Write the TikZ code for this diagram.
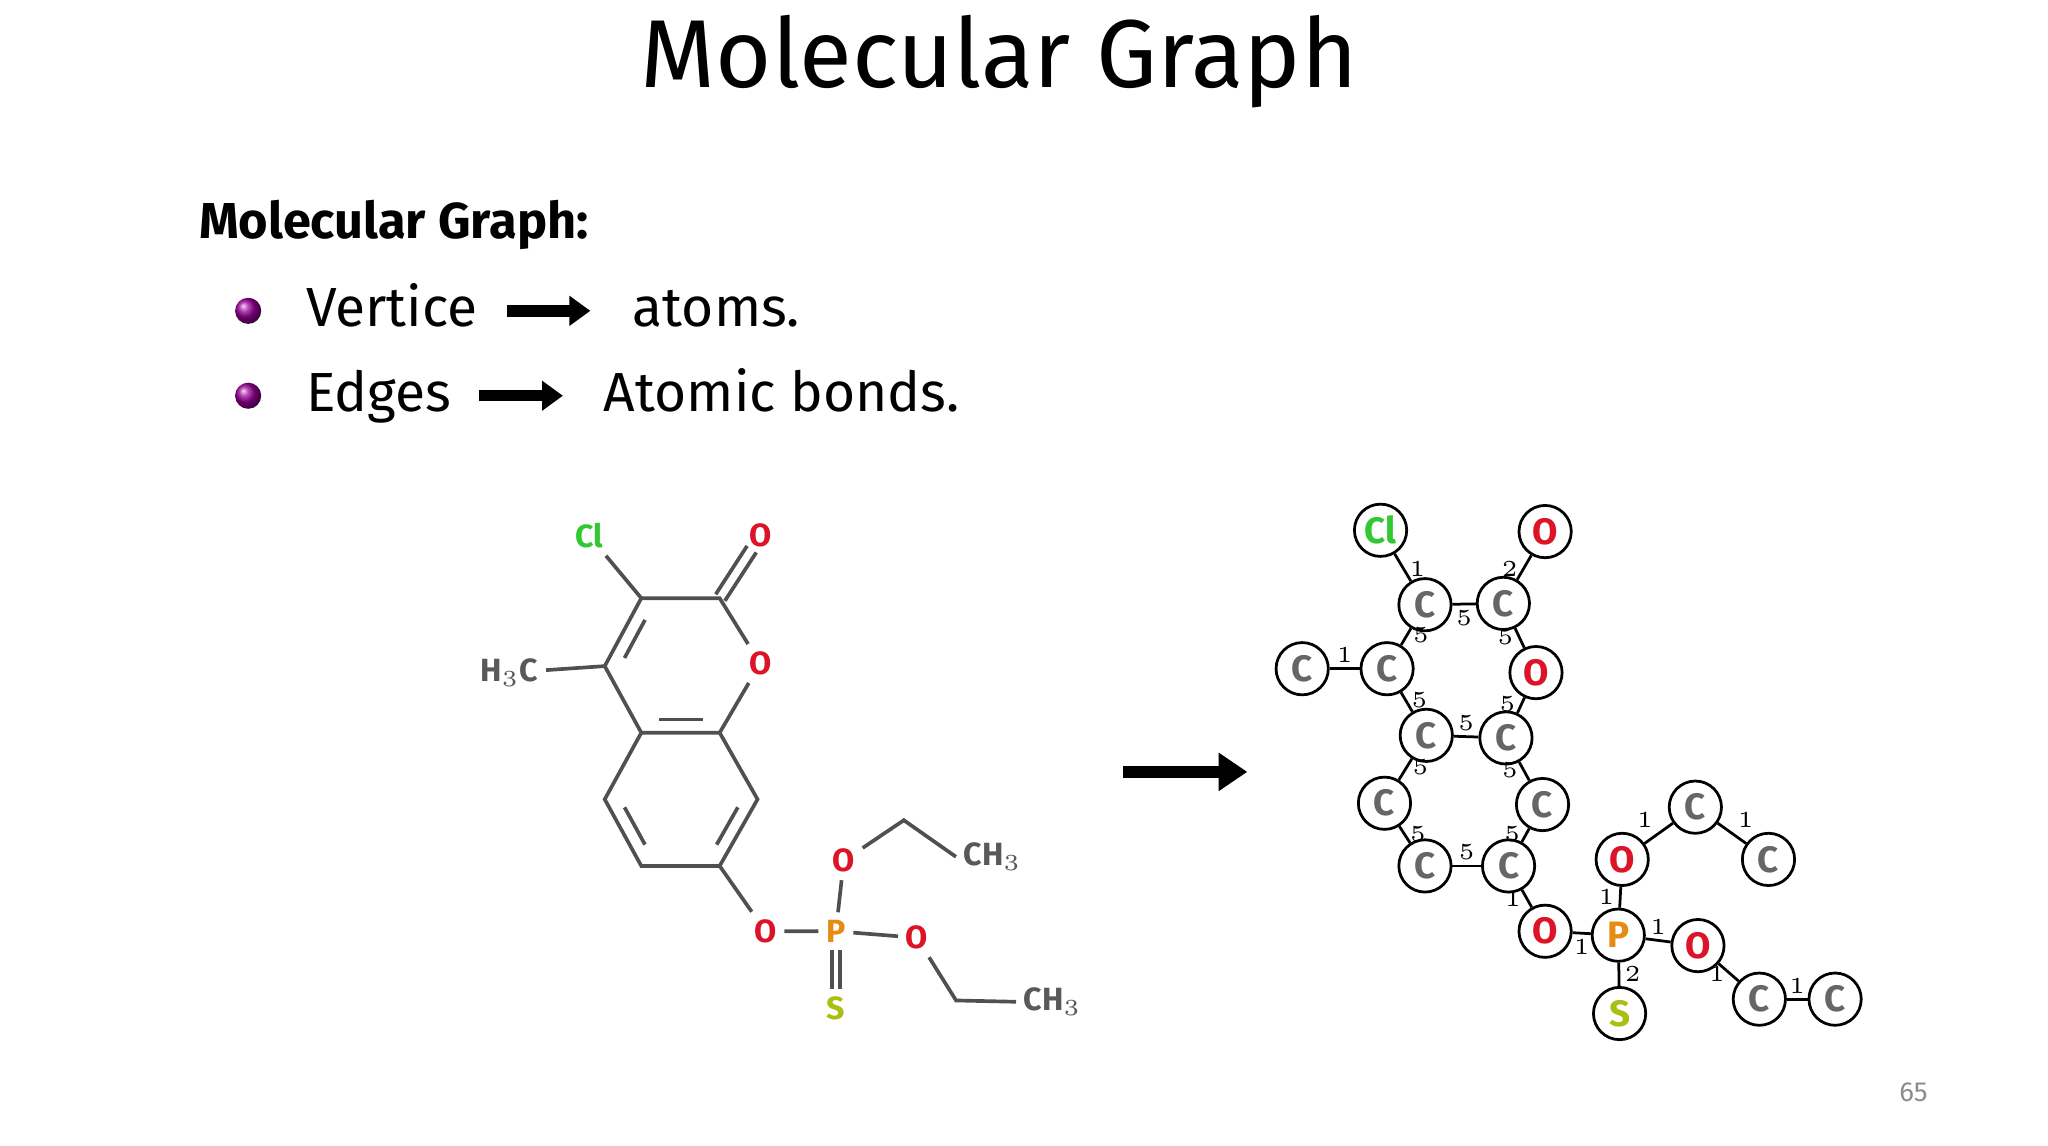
\documentclass[tikz,border=0pt]{standalone}
\usepackage{fontspec}
\setsansfont{Fira Sans}
\usetikzlibrary{calc,arrows.meta,shadings}
\definecolor{clg}{RGB}{50,200,50}
\definecolor{ored}{RGB}{220,20,40}
\definecolor{porg}{RGB}{230,140,20}
\definecolor{syel}{RGB}{170,190,20}
\definecolor{bondg}{RGB}{80,80,80}
\begin{document}
\begin{tikzpicture}[x=0.01cm,y=-0.01cm,
  atm/.style={circle,draw,semithick,minimum size=0.4cm,inner sep=0pt,font=\sffamily\fontsize{8}{8}\selectfont\bfseries,text=black!60},
  lab/.style={font=\fontsize{5}{5}\selectfont,inner sep=1pt},
  gl/.style={semithick},
  ml/.style={inner sep=1.5pt,font=\sffamily\fontsize{7}{7}\selectfont\bfseries},
  bd/.style={bondg,thick},
  bul/.style={circle,inner sep=0pt,minimum size=0.2cm,ball color=violet!80!magenta},
  big/.style={line width=2.5pt,-{Triangle[length=0.22cm,width=0.28cm]}}]
\useasboundingbox (0,0) rectangle (1568,877);
\node (title) at (765,47) {\sffamily\fontsize{21}{21}\selectfont Molecular Graph};
\node[anchor=west] (hdr) at (140,172) {\sffamily\fontsize{11}{11}\selectfont\bfseries Molecular Graph:};
\node[bul] (b1) at (190,238) {};
\node[bul] (b2) at (190,303) {};
\node[anchor=base west] (t1) at (222,250) {\sffamily\fontsize{12}{12}\selectfont Vertice};
\coordinate (a1s) at (388,238); \coordinate (a1e) at (452,238);
\draw[line width=2.5pt,-{Triangle[length=0.16cm,width=0.22cm]}] (a1s) -- (a1e);
\node[anchor=base west] (t2) at (472,250) {\sffamily\fontsize{12}{12}\selectfont atoms.};
\node[anchor=base west] (t3) at (222,315) {\sffamily\fontsize{12}{12}\selectfont Edges};
\coordinate (a2s) at (367,303); \coordinate (a2e) at (431,303);
\draw[line width=2.5pt,-{Triangle[length=0.16cm,width=0.22cm]}] (a2s) -- (a2e);
\node[anchor=base west] (t4) at (450,315) {\sffamily\fontsize{12}{12}\selectfont Atomic bonds.};
\node (pg) at (1465,836) {\sffamily\fontsize{6}{6}\selectfont\color{black!45}65};
% big arrow
\coordinate (bas) at (860,591); \coordinate (bae) at (955,591);
\draw[big] (bas) -- (bae);
% left molecule
\node[ml,text=clg] (lCl) at (451,410) {Cl};
\node[ml,text=ored] (lO1) at (582,410) {O};
\node[ml,text=ored] (lO2) at (582,508) {O};
\node[ml,text=black!65] (lMe) at (390,515) {H$_3$C};
\node[ml,text=ored] (lO3) at (586,713) {O};
\node[ml,text=porg] (lP) at (640,713) {P};
\node[ml,text=ored] (lO4) at (646,659) {O};
\node[ml,text=ored] (lO5) at (702,718) {O};
\node[ml,text=syel] (lS) at (640,772) {S};
\node[ml,text=black!65] (lMe2) at (760,656) {CH$_3$};
\node[ml,text=black!65] (lMe3) at (806,767) {CH$_3$};
\coordinate (c3) at (491,458); \coordinate (c2) at (551,458);
\coordinate (c4) at (463,510); \coordinate (c4a) at (491,561);
\coordinate (c8a) at (551,561); \coordinate (c8) at (580,612);
\coordinate (c7) at (551,663); \coordinate (c6) at (491,663);
\coordinate (c5) at (463,612);
\coordinate (e1) at (692,628); \coordinate (e2) at (732,766);
\coordinate (rc1) at (522,510); \coordinate (rc2) at (522,612);
\draw[bd] (lCl) -- (c3) -- (c2) -- (lO2) -- (c8a) -- (c4a) -- (c4) -- (c3);
\draw[bd] (c4) -- (lMe);
\draw[bd] (c4a) -- (c5) -- (c6) -- (c7) -- (c8) -- (c8a);
\draw[bd] (c7) -- (lO3) -- (lP) -- (lO5) -- (e2) -- (lMe3.west);
\draw[bd] (lP) -- (lO4) -- (e1) -- (lMe2.west);
\coordinate (co1) at (548,455); \coordinate (co2) at (572,418);
\coordinate (co3) at (555,460); \coordinate (co4) at (579,423);
\draw[bd] (co1) -- (co2);
\draw[bd] (co3) -- (co4);
\draw[bd] ($($(c3)!0.15!(c4)$)!0.2!(rc1)$) -- ($($(c3)!0.85!(c4)$)!0.2!(rc1)$);
\draw[bd] ($($(c4a)!0.15!(c8a)$)!0.2!(rc1)$) -- ($($(c4a)!0.85!(c8a)$)!0.2!(rc1)$);
\draw[bd] ($($(c5)!0.15!(c6)$)!0.2!(rc2)$) -- ($($(c5)!0.85!(c6)$)!0.2!(rc2)$);
\draw[bd] ($($(c7)!0.15!(c8)$)!0.2!(rc2)$) -- ($($(c7)!0.85!(c8)$)!0.2!(rc2)$);
\draw[bd] ($(lP.south)+(-3,0)$) -- ($(lS.north)+(-3,0)$);
\draw[bd] ($(lP.south)+(3,0)$) -- ($(lS.north)+(3,0)$);
% right graph
\node[atm,text=clg] (Cl) at (1057,406) {Cl};
\node[atm,text=ored] (O1) at (1183,407) {O};
\node[atm] (Ca) at (1091,463) {C};
\node[atm] (Cb) at (1151,462) {C};
\node[atm] (Cm) at (997,512) {C};
\node[atm] (Cc) at (1062,512) {C};
\node[atm,text=ored] (Ob) at (1176,515) {O};
\node[atm] (Cd) at (1092,563) {C};
\node[atm] (Ce) at (1153,565) {C};
\node[atm] (Cf) at (1060,615) {C};
\node[atm] (Cg) at (1181,616) {C};
\node[atm] (Ch) at (1091,663) {C};
\node[atm] (Ci) at (1155,663) {C};
\node[atm,text=ored] (Oc) at (1183,713) {O};
\node[atm,text=porg] (P) at (1239,716) {P};
\node[atm,text=ored] (Od) at (1242,658) {O};
\node[atm] (D1) at (1298,618) {C};
\node[atm] (D2) at (1354,658) {C};
\node[atm,text=ored] (Oe) at (1300,724) {O};
\node[atm] (F1) at (1347,765) {C};
\node[atm] (F2) at (1405,765) {C};
\node[atm,text=syel] (S) at (1240,776) {S};
\draw[gl] (Cl) -- node[lab,right,pos=.55]{1} (Ca);
\draw[gl] (O1) -- node[lab,left,pos=.55]{2} (Cb);
\draw[gl] (Ca) -- node[lab,below]{5} (Cb);
\draw[gl] (Ca) -- node[lab,right,pos=.4]{5} (Cc);
\draw[gl] (Cb) -- node[lab,left,pos=.45]{5} (Ob);
\draw[gl] (Cm) -- node[lab,above]{1} (Cc);
\draw[gl] (Cc) -- node[lab,right,pos=.4]{5} (Cd);
\draw[gl] (Ob) -- node[lab,left,pos=.45]{5} (Ce);
\draw[gl] (Cd) -- node[lab,above]{5} (Ce);
\draw[gl] (Cd) -- node[lab,right,pos=.4]{5} (Cf);
\draw[gl] (Ce) -- node[lab,left,pos=.45]{5} (Cg);
\draw[gl] (Cf) -- node[lab,right,pos=.45]{5} (Ch);
\draw[gl] (Cg) -- node[lab,left,pos=.45]{5} (Ci);
\draw[gl] (Ch) -- node[lab,above]{5} (Ci);
\draw[gl] (Ci) -- node[lab,left,pos=.5]{1} (Oc);
\draw[gl] (Oc) -- node[lab,below]{1} (P);
\draw[gl] (P) -- node[lab,left]{1} (Od);
\draw[gl] (P) -- node[lab,above]{1} (Oe);
\draw[gl] (P) -- node[lab,right]{2} (S);
\draw[gl] (Od) -- node[lab,above left]{1} (D1);
\draw[gl] (D1) -- node[lab,above right]{1} (D2);
\draw[gl] (Oe) -- node[lab,left,pos=.6]{1} (F1);
\draw[gl] (F1) -- node[lab,above]{1} (F2);
\end{tikzpicture}
\end{document}
